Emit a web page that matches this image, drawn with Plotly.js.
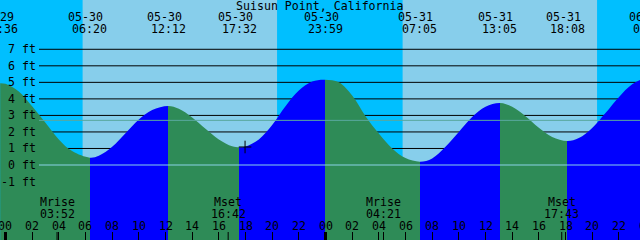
<!DOCTYPE html>
<html><head><meta charset="utf-8">
<script src="https://cdn.plot.ly/plotly-3.0.1.min.js"></script>
<style>html,body{margin:0;padding:0;background:#00BFFF;overflow:hidden}#chart{width:640px;height:240px}</style>
</head><body><div id="chart"></div>
<script>
// ---------- data ----------
const chartTitle = 'Suisun Point, California';
// tide extremes (high / low)
const eventDates   = ['05-29','05-30','05-30','05-30','05-30','05-31','05-31','05-31','06-01'];
const eventTimes   = ['23:36','06:20','12:12','17:32','23:59','07:05','13:05','18:08','00:24'];
const eventHeights = [4.95, 0.44, 3.57, 1.07, 5.16, 0.20, 3.75, 1.45, 5.40];
// intermediate readings of the tide curve (hours after 05-30 00:00, feet)
const curveHours = [0, 1, 2, 3, 4, 5,
                    7, 8, 9, 10, 11,
                    13, 14, 15, 16, 17,
                    18, 19, 20, 21, 22, 23,
                    25, 26, 27, 28, 29, 30,
                    32, 33, 34, 35, 36,
                    38, 39, 40, 41,
                    43, 44, 45, 46, 47];
const curveFeet  = [4.91, 4.45, 3.55, 2.55, 1.55, 0.84,
                    0.56, 1.10, 1.92, 2.75, 3.33,
                    3.40, 2.88, 2.20, 1.55, 1.13,
                    1.12, 1.55, 2.42, 3.55, 4.50, 5.05,
                    5.00, 4.20, 2.95, 1.90, 1.00, 0.42,
                    0.40, 1.10, 2.00, 2.90, 3.52,
                    3.52, 2.95, 2.25, 1.70,
                    1.63, 2.24, 3.14, 4.10, 4.89];
// sun
const sunDates    = ['05-30','05-31'];
const sunriseTimes = ['05:47','05:47'];
const sunsetTimes  = ['20:22','20:22'];
// moon
const moonNames = ['Mrise','Mset','Mrise','Mset'];
const moonDates = ['05-30','05-30','05-31','05-31'];
const moonTimes = ['03:52','16:42','04:21','17:43'];
// current-time mark
const nowDate = '05-30', nowTime = '17:58', nowHeight = 1.09;
// levels
const datumLevel = 0.0;
const meanLevel = 2.70;
const gridLevels = [1,2,3,4,5,6,7];
const yTickValues = [7,6,5,4,3,2,1,0,-1];
const yTickLabels = ['7 ft','6 ft','5 ft','4 ft','3 ft','2 ft','1 ft','0 ft','-1 ft'];
const hourLabels = ['00','02','04','06','08','10','12','14','16','18','20','22',
                    '00','02','04','06','08','10','12','14','16','18','20','22','00'];
const midnightLabels = ['05-30','05-31'];

// ---------- helpers ----------
function hoursOf(md, hm) {
  const [m, d] = md.split('-').map(Number);
  const [H, M] = hm.split(':').map(Number);
  const dayDiff = (Date.UTC(2000, m - 1, d) - Date.UTC(2000, 4, 30)) / 86400000;
  return dayDiff * 24 + H + M / 60;
}
const W = 640, H = 240;
const XR = [-0.4125, 47.5875];
const YR = [-4.537, 9.982];
const xp = t => (t - XR[0]) / (XR[1] - XR[0]);
const ypx = px => 1 - px / H;

const FONT = {family: 'DejaVu Sans Mono, monospace', size: 11.6, color: '#000'};
const DAY = '#87CEEB', NIGHT = '#00BFFF', FLOOD = '#0000FF', EBB = '#2E8B57';

// ---------- curve ----------
const evHours = eventDates.map((d, i) => hoursOf(d, eventTimes[i]));
let pts = evHours.map((t, i) => [t, eventHeights[i]]).concat(curveHours.map((t, i) => [t, curveFeet[i]]));
pts.sort((a, b) => a[0] - b[0]);
const cx = pts.map(p => p[0]), cy = pts.map(p => p[1]);
const t0 = cx[0], t1 = cx[cx.length - 1];
const span = t1 - t0;
const colorscale = [];
for (let i = 0; i < evHours.length - 1; i++) {
  const col = eventHeights[i + 1] > eventHeights[i] ? FLOOD : EBB;
  colorscale.push([(evHours[i] - t0) / span, col]);
  colorscale.push([(evHours[i + 1] - t0) / span, col]);
}
colorscale[0][0] = 0; colorscale[colorscale.length - 1][0] = 1;

const traces = [
  {x: [t0, t1], y: [-10, -10], mode: 'lines', line: {width: 0}, hoverinfo: 'skip', showlegend: false},
  {x: cx, y: cy, mode: 'lines', line: {width: 0, shape: 'spline', smoothing: 1}, fill: 'tonexty',
   fillgradient: {type: 'horizontal', colorscale: colorscale, start: t0, stop: t1},
   hoverinfo: 'skip', showlegend: false},
  {x: [hoursOf(nowDate, nowTime)], y: [nowHeight], mode: 'markers',
   marker: {symbol: 'cross-thin', size: 9, line: {color: '#000', width: 1}}, hoverinfo: 'skip', showlegend: false}
];

// ---------- shapes ----------
const shapes = [];
sunDates.forEach((d, i) => {
  shapes.push({type: 'rect', layer: 'below', xref: 'x', yref: 'paper', x0: hoursOf(d, sunriseTimes[i]),
    x1: hoursOf(d, sunsetTimes[i]), y0: 0, y1: 1, fillcolor: DAY, line: {width: 0}});
});
gridLevels.forEach(v => {
  shapes.push({type: 'line', layer: 'below', xref: 'paper', yref: 'y', x0: 39 / W, x1: 1, y0: v, y1: v,
    line: {color: '#000', width: 1}});
});
shapes.push({type: 'line', layer: 'above', xref: 'paper', yref: 'y', x0: 39 / W, x1: 1, y0: datumLevel, y1: datumLevel,
  line: {color: '#8ad2e8', width: 1}});
shapes.push({type: 'line', layer: 'above', xref: 'paper', yref: 'y', x0: 39 / W, x1: 1, y0: meanLevel, y1: meanLevel,
  line: {color: '#5aa89e', width: 1}});
midnightLabels.forEach(d => {
  const t = hoursOf(d, '00:00');
  shapes.push({type: 'line', layer: 'above', xref: 'x', yref: 'paper', x0: t, x1: t, y0: 0, y1: 8 / H,
    line: {color: '#000', width: 3}});
});
moonDates.forEach((d, i) => {
  const t = hoursOf(d, moonTimes[i]);
  shapes.push({type: 'line', layer: 'above', xref: 'x', yref: 'paper', x0: t, x1: t, y0: 0, y1: 8 / H,
    line: {color: '#000', width: 1}});
});

// ---------- annotations ----------
const ann = [];
const A = (o) => ann.push(Object.assign({showarrow: false, font: FONT, xanchor: 'center', yanchor: 'middle', borderpad: 0}, o));
A({text: chartTitle, xref: 'paper', yref: 'paper', x: 0.5, y: ypx(6)});
eventDates.forEach((d, i) => {
  const t = evHours[i];
  A({text: d, xref: 'paper', yref: 'paper', x: xp(t), y: ypx(17.5), xshift: -4});
  A({text: eventTimes[i], xref: 'paper', yref: 'paper', x: xp(t), y: ypx(29)});
});
yTickValues.forEach((v, i) => {
  A({text: yTickLabels[i], xref: 'paper', yref: 'y', x: 36.5 / W, y: v, xanchor: 'right'});
});
moonDates.forEach((d, i) => {
  const t = hoursOf(d, moonTimes[i]);
  A({text: moonNames[i], xref: 'paper', yref: 'paper', x: xp(t), y: ypx(202)});
  A({text: moonTimes[i], xref: 'paper', yref: 'paper', x: xp(t), y: ypx(213.5)});
});
hourLabels.forEach((s, i) => {
  A({text: s, xref: 'paper', yref: 'paper', x: xp(i * 2), y: ypx(225.5)});
});

const hourTickVals = hourLabels.map((s, i) => i * 2);

const layout = {
  width: W, height: H, margin: {l: 0, r: 0, t: 0, b: 0, pad: 0},
  paper_bgcolor: NIGHT, plot_bgcolor: NIGHT, showlegend: false,
  xaxis: {range: XR, showgrid: false, zeroline: false, showline: false, ticks: 'inside', ticklen: 8,
    tickwidth: 1, tickcolor: '#000', tickmode: 'array', tickvals: hourTickVals, showticklabels: false, fixedrange: true},
  yaxis: {range: YR, showgrid: false, zeroline: false, showline: false, showticklabels: false, ticks: '', fixedrange: true},
  shapes: shapes, annotations: ann
};
Plotly.newPlot('chart', traces, layout, {staticPlot: true, displayModeBar: false});
</script></body></html>
